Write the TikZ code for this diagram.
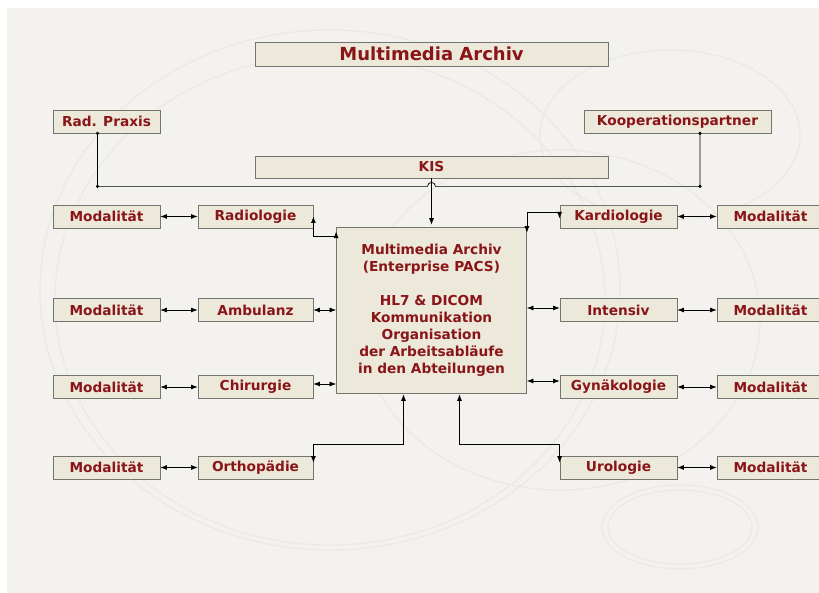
\documentclass[tikz,border=0pt]{standalone}
\usepackage{fontspec}
\setmainfont{DejaVu Sans}
\usetikzlibrary{arrows.meta,calc}
\definecolor{fond}{HTML}{F3F2EE}
\definecolor{beige}{HTML}{ECE8DA}
\definecolor{rahmen}{HTML}{75756F}
\definecolor{weinrot}{HTML}{8A1518}
\definecolor{kreis}{HTML}{EAE9E4}
\tikzstyle{kasten} = [rectangle, draw=rahmen, line width=0.8pt, fill=beige, text=weinrot, minimum height=23pt, inner sep=0pt, font=\bfseries\fontsize{13.7}{17}\selectfont]
\tikzstyle{modal} = [kasten, minimum width=107pt]
\tikzstyle{abt} = [kasten, minimum width=116pt]
\tikzstyle{punkt} = [circle, fill=black, inner sep=0pt, minimum size=3.5pt]

\begin{document}
\begin{tikzpicture}[x=1pt, y=1pt, >={Latex[length=6.5pt,width=5pt]}, line width=0.7pt]

        \useasboundingbox (0,0) rectangle (819,-593);
        \clip (0,0) rectangle (819,-593);
        \fill[fond] (7,-8) rectangle (819,-593);

        % faint circles in the background
        \draw[kreis, line width=1.2pt] (330,-290) ellipse (290 and 260);
        \draw[kreis, line width=1.2pt] (330,-300) ellipse (275 and 245);
        \draw[kreis, line width=1.2pt] (560,-320) ellipse (200 and 170);
        \draw[kreis, line width=1.2pt] (670,-135) ellipse (130 and 85);
        \draw[kreis, line width=1.2pt] (680,-527) ellipse (78 and 42);
        \draw[kreis, line width=1.2pt] (680,-527) ellipse (72 and 37);

        \node (titel) [kasten, minimum width=353pt, minimum height=24pt, font=\bfseries\fontsize{18}{22}\selectfont] at (431.5,-54) {Multimedia Archiv};
        \node (rp) [modal] at (106.5,-121.5) {Rad. Praxis};
        \node (kp) [kasten, minimum width=187pt] at (677.5,-121.5) {Kooperationspartner};
        \node (kis) [kasten, minimum width=353pt, minimum height=22pt] at (431.5,-167) {KIS};

        \node (arch) [kasten, minimum width=190pt, minimum height=166pt, align=center] at (431.5,-310)
            {Multimedia Archiv\\(Enterprise PACS)\\[17pt]HL7 \& DICOM\\Kommunikation\\Organisation\\der Arbeitsabläufe\\in den Abteilungen};

        % linke Seite
        \node (m1) [modal] at (106.5,-216.5) {Modalität};
        \node (m2) [modal] at (106.5,-310) {Modalität};
        \node (m3) [modal] at (106.5,-387) {Modalität};
        \node (m4) [modal] at (106.5,-467.5) {Modalität};
        \node (rad) [abt, minimum width=115pt] at (255.5,-216.5) {Radiologie};
        \node (amb) [abt, minimum width=115pt] at (255.5,-310) {Ambulanz};
        \node (chir) [abt, minimum width=115pt] at (255.5,-387) {Chirurgie};
        \node (orth) [abt, minimum width=115pt] at (255.5,-467.5) {Orthopädie};

        % rechte Seite
        \node (kard) [abt, minimum width=117pt] at (618.5,-216.5) {Kardiologie};
        \node (int) [abt, minimum width=117pt] at (618.5,-310) {Intensiv};
        \node (gyn) [abt, minimum width=117pt] at (618.5,-387) {Gynäkologie};
        \node (uro) [abt, minimum width=117pt] at (618.5,-467.5) {Urologie};
        \node (m5) [modal] at (770.5,-216.5) {Modalität};
        \node (m6) [modal] at (770.5,-310) {Modalität};
        \node (m7) [modal] at (770.5,-387) {Modalität};
        \node (m8) [modal] at (770.5,-467.5) {Modalität};

        % Bus zwischen Rad. Praxis und Kooperationspartner
        \draw ($(rp.south)+(-9,0)$) node[punkt]{} -- ++(0,-53) node[punkt]{}
            -- ($(kis.south)+(-4,-8)$) arc[start angle=180, end angle=0, radius=4]
            -- ($(kp.south)+(22.5,-53)$) node[punkt]{} -- ($(kp.south)+(22.5,0)$) node[punkt]{};
        \draw[->, shorten >=2pt] (kis.south) -- (arch.north);

        \draw[<->] (m1) -- (rad);
        \draw[<->] (m2) -- (amb);
        \draw[<->] (m3) -- (chir);
        \draw[<->] (m4) -- (orth);
        \draw[<->] (kard) -- (m5);
        \draw[<->] (int) -- (m6);
        \draw[<->] (gyn) -- (m7);
        \draw[<->] (uro) -- (m8);

        \draw[<->] (rad.east) -- ++(0,-20) -| ($(arch.north west)+(0,-5)$);
        \draw[<->] (amb.east) -- (amb.east -| arch.west);
        \draw[<->] ($(chir.east)+(0,3)$) -- ($(chir.east -| arch.west)+(0,3)$);
        \draw[<->] ($(arch.south)+(-28,-1)$) -- ++(0,-50) -| ($(orth.north east)+(0,-7)$);

        \draw[<->] ($(arch.north east)+(0,-6)$) -- ++(0,20) -| ($(kard.west)+(0,-2)$);
        \draw[<->] ($(arch.east |- int.west)+(0,2)$) -- ($(int.west)+(0,2)$);
        \draw[<->] ($(arch.east |- gyn.west)+(0,6)$) -- ($(gyn.west)+(0,6)$);
        \draw[<->] ($(arch.south)+(28,-1)$) -- ++(0,-50) -| ($(uro.north west)+(0,-7)$);

    \end{tikzpicture}
\end{document}
